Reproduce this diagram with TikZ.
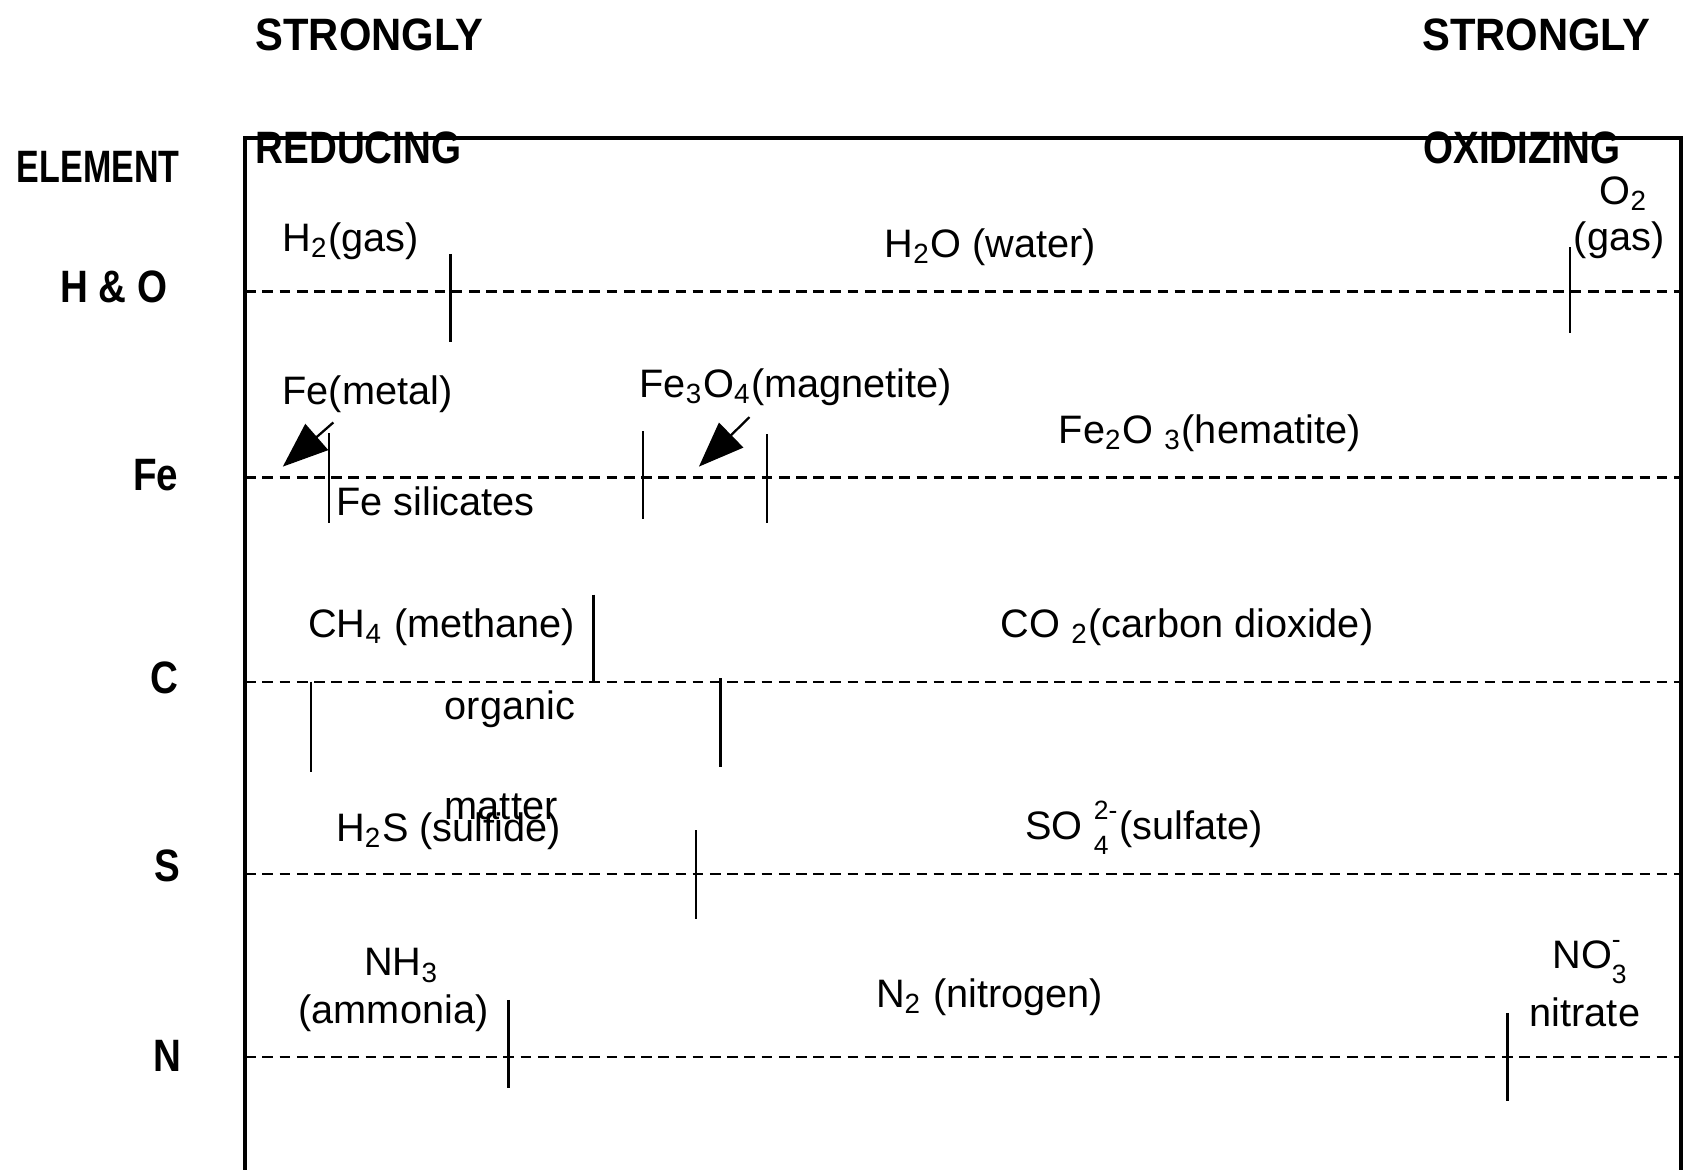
\documentclass[tikz,border=0pt]{standalone}
\usepackage{fontspec}
\setmainfont{Liberation Sans}
\newfontfamily\headfont{Liberation Sans}[FakeStretch=0.85]
\newfontfamily\wideheadfont{Liberation Sans}[FakeStretch=0.92]
\newfontfamily\narrowheadfont{Liberation Sans}[FakeStretch=0.75]
\usetikzlibrary{arrows.meta}
\tikzset{>=latex}
\newcommand{\supsub}[2]{\rlap{\raisebox{0.95ex}{\scriptsize #1}}\raisebox{-0.7ex}{\scriptsize #2}}
\tikzset{
	lbl/.style={anchor=west,inner sep=0pt,font=\fontsize{10.5}{12}\selectfont},
	head/.style={anchor=west,inner sep=0pt,font=\headfont\bfseries\fontsize{12}{14}\selectfont},
	rowname/.style={inner sep=0pt,font=\headfont\bfseries\fontsize{12}{14}\selectfont},
	level/.style={line width=0.6pt,dash pattern=on 0.1cm off 0.06cm},
	tickline/.style={line width=0.6pt},
	bigarrow/.style={line width=0.6pt,-{Triangle[length=0.42cm,width=0.32cm]}}
}

\begin{document}
\begin{tikzpicture}[x=0.01cm,y=-0.01cm]
		\def\tick#1#2#3{ % #1 x, #2 top, #3 bottom
			\draw[tickline] (#1,#2) -- (#1,#3);
		}
		\useasboundingbox (0,0) rectangle (1568,1088);
		\draw[line width=1.1pt] (228,1088) -- (228,128) -- (1563,128) -- (1563,1088);
		\foreach \y in {271,444,634,813,983}
			\draw[level] (228,\y) -- (1563,\y);
		\node[head,font=\wideheadfont\bfseries\fontsize{12}{14}\selectfont] (strongred) at (237,32) {STRONGLY};
		\node[head,font=\wideheadfont\bfseries\fontsize{12}{14}\selectfont] (strongox) at (1322,32) {STRONGLY};
		\node[head] (reducing) at (237,138) {REDUCING};
		\node[head] (oxidizing) at (1323,138) {OXIDIZING};
		\node[head,font=\narrowheadfont\bfseries\fontsize{12}{14}\selectfont] (element) at (15,155) {ELEMENT};
		\node[rowname] (rowHO) at (106,267) {H \& O};
		\node[rowname] (rowFe) at (145,442) {Fe};
		\node[rowname] (rowC) at (153,630) {C};
		\node[rowname] (rowS) at (156,805) {S};
		\node[rowname] (rowN) at (156,982) {N};
		% H & O
		\tick{419}{236}{318}
		\tick{1460}{230}{310}
		\node[lbl] (hgas) at (262,224) {H\textsubscript{2}(gas)};
		\node[lbl] (water) at (822,230) {H\textsubscript{2}O (water)};
		\node[lbl] (otwo) at (1487,180) {O\textsubscript{2}};
		\node[lbl] (ogas) at (1463,223) {(gas)};
		% Fe
		\tick{306}{403}{486}
		\tick{598}{401}{483}
		\tick{713}{404}{486}
		\node[lbl] (femetal) at (262,367) {Fe(metal)};
		\node[lbl] (magnetite) at (594,360) {Fe\textsubscript{3}O\textsubscript{4}(magnetite)};
		\node[lbl] (hematite) at (984,403) {Fe\textsubscript{2}O \textsubscript{3}(hematite)};
		\node[lbl] (silicates) at (312,466) {Fe silicates};
		\coordinate (metaltip) at (263,434);
		\coordinate (magtip) at (650,434);
		\draw[bigarrow] ([xshift=0.48cm,yshift=-0.08cm]femetal.south west) -- (metaltip);
		\draw[bigarrow] ([xshift=1.03cm,yshift=-0.1cm]magnetite.south west) -- (magtip);
		% C
		\tick{552}{553}{634}
		\tick{289}{634}{718}
		\tick{670}{631}{713}
		\node[lbl] (methane) at (286,583) {CH\textsubscript{4} (methane)};
		\node[lbl] (cotwo) at (930,583) {CO \textsubscript{2}(carbon dioxide)};
		\node[lbl] (organic) at (413,660) {organic};
		\node[lbl] (matter) at (413,750) {matter};
		% S
		\tick{647}{772}{855}
		\node[lbl] (sulfide) at (312,773) {H\textsubscript{2}S (sulfide)};
		\node[lbl] (sulfate) at (953,770) {SO \supsub{2-}{4} (sulfate)};
		% N
		\tick{473}{930}{1012}
		\tick{1402}{942}{1024}
		\node[lbl] (nhthree) at (338,898) {NH\textsubscript{3}};
		\node[lbl] (ammonia) at (277,942) {(ammonia)};
		\node[lbl] (nitrogen) at (814,927) {N\textsubscript{2} (nitrogen)};
		\node[lbl] (nothree) at (1443,895) {NO\supsub{-}{3}};
		\node[lbl] (nitrate) at (1422,941) {nitrate};
	\end{tikzpicture}
\end{document}
